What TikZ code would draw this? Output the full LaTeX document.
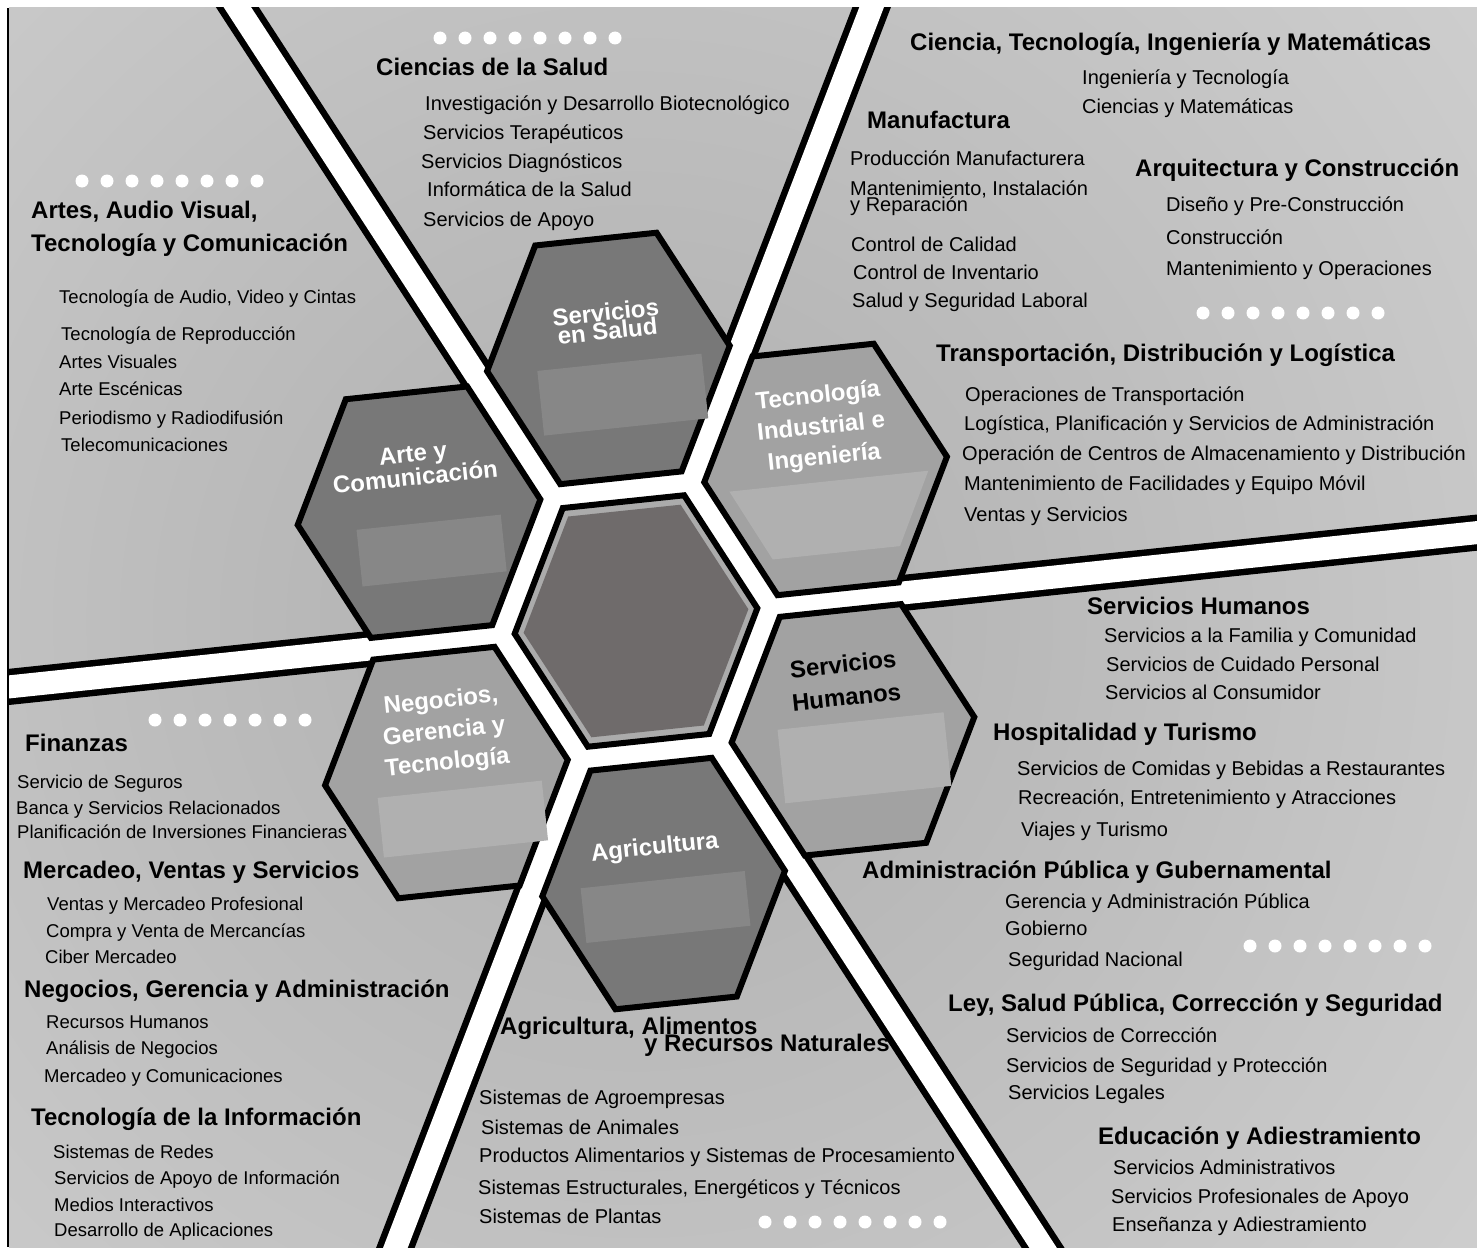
\documentclass[tikz,border=0pt]{standalone}
\usepackage{fontspec}
\setmainfont{Liberation Sans}
\definecolor{bgdark}{HTML}{AEAEAE}
\definecolor{bglight}{HTML}{D8D8D8}
\definecolor{hexdark}{HTML}{787878}
\definecolor{hexmid}{HTML}{A2A2A2}
\definecolor{boxdark}{HTML}{878787}
\definecolor{boxmid}{HTML}{B0B0B0}
\definecolor{hubring}{HTML}{ABABAB}
\definecolor{hubcore}{HTML}{6F6B6B}
% one cell of the honeycomb, centred on the current origin
\newcommand{\honeycell}[2]{(#1,0) -- (#1/2,#2) -- (-#1/2,#2) -- (-#1,0) -- (-#1/2,-#2) -- (#1/2,-#2) -- cycle}
\begin{document}
\begin{tikzpicture}[x=1pt,y=-1pt,
  heading/.style={anchor=west,inner sep=0,font=\fontsize{24}{26}\selectfont\bfseries,text height=17pt,text depth=5pt},
  entry/.style={anchor=west,inner sep=0,font=\fontsize{20}{22}\selectfont,text height=14.5pt,text depth=4pt},
  entrysm/.style={entry,font=\fontsize{18.5}{20}\selectfont},
  hexlbl/.style={align=center,rotate=6,inner sep=0,text=white,font=\fontsize{24}{#1}\selectfont\bfseries},
  hexline/.style={draw=black,line width=6,line join=miter}]
\useasboundingbox (0,0) rectangle (1477,1247);

% background and frame
\begin{scope}
  \clip (9,8) rectangle (1477,1247);
  \shade[inner color=bgdark,outer color=bglight] (636,621) circle (1400);
  \begin{scope}[shift={(636,621)},rotate=6]
    \foreach \ang in {0,63,117,180,243,297} {
      \draw[line width=36] (0,0) -- (\ang:1500);
      \draw[white,line width=23] (0,0) -- (\ang:1500);
    }
    \fill[white] \honeycell{150}{144};
  \end{scope}
\end{scope}
\draw[line width=2] (8,8) -- (8,1247);

% honeycomb
\begin{scope}[shift={(636,621)},rotate=6]
  \begin{scope}[shift={(0,-264)}]
    \filldraw[hexline,fill=hexdark] \honeycell{122}{120};
    \fill[boxdark] (-72,5) rectangle (93,70);
    \node[hexlbl=15] (salud) at (2,-37) {Servicios\\en Salud};
  \end{scope}
  \begin{scope}[shift={(204.4,-130.9)}]
    \filldraw[hexline,fill=hexmid] \honeycell{122}{120};
    \fill[boxmid] (-98,12) -- (102,12) -- (66,84) -- (-62,84) -- cycle;
    \node[hexlbl=31] (tecno) at (0,-42) {Tecnología\\Industrial e\\Ingeniería};
  \end{scope}
  \begin{scope}[shift={(204.4,130.9)}]
    \filldraw[hexline,fill=hexmid] \honeycell{122}{120};
    \fill[boxmid] (-75,-8) rectangle (92,66);
    \node[hexlbl=33,text=black] (humanos) at (-3,-50) {Servicios\\Humanos};
  \end{scope}
  \begin{scope}[shift={(0,264)}]
    \filldraw[hexline,fill=hexdark] \honeycell{122}{120};
    \fill[boxdark] (-83,-4) rectangle (82,51);
    \node[hexlbl=26] (agri) at (-5,-36) {Agricultura};
  \end{scope}
  \begin{scope}[shift={(-204.4,130.9)}]
    \filldraw[hexline,fill=hexmid] \honeycell{122}{120};
    \fill[boxmid] (-71,18) rectangle (94,78);
    \node[hexlbl=31] (negocios) at (2,-40) {Negocios,\\Gerencia y\\Tecnología};
  \end{scope}
  \begin{scope}[shift={(-204.4,-130.9)}]
    \filldraw[hexline,fill=hexdark] \honeycell{122}{120};
    \fill[boxdark] (-64,11) rectangle (81,68);
    \node[hexlbl=14] (arte) at (0,-47) {Arte y\\Comunicación};
  \end{scope}
  % hub
  \filldraw[hexline,fill=hubring] \honeycell{122}{120};
  \fill[hubcore] \honeycell{113}{111};
\end{scope}

% rows of dots
\foreach \dx/\dy/\dn in {440/38/7, 82/181/7, 1203/313/7, 155/720/6, 1250/946/7, 765/1222/7}
  \foreach \k in {0,...,\dn}
    \fill[white] (\dx+25*\k,\dy) circle (6.5);

% cluster headings
\node[heading] (h-salud) at (376,69) {Ciencias de la Salud};
\node[heading] (h-arte1) at (31,212) {Artes, Audio Visual,};
\node[heading] (h-arte2) at (31,245) {Tecnología y Comunicación};
\node[heading] (h-stem) at (910,45) {Ciencia, Tecnología, Ingeniería y Matemáticas};
\node[heading] (h-manuf) at (867,122) {Manufactura};
\node[heading] (h-arq) at (1135,170) {Arquitectura y Construcción};
\node[heading] (h-transp) at (936,355) {Transportación, Distribución y Logística};
\node[heading] (h-humanos) at (1087,608) {Servicios Humanos};
\node[heading] (h-hosp) at (993,734) {Hospitalidad y Turismo};
\node[heading] (h-admin) at (862,872) {Administración Pública y Gubernamental};
\node[heading] (h-ley) at (948,1005) {Ley, Salud Pública, Corrección y Seguridad};
\node[heading] (h-educ) at (1098,1138) {Educación y Adiestramiento};
\node[heading] (h-agri1) at (500,1028) {Agricultura, Alimentos};
\node[heading] (h-agri2) at (644,1045) {y Recursos Naturales};
\node[heading] (h-fin) at (25,745) {Finanzas};
\node[heading] (h-merc) at (23,872) {Mercadeo, Ventas y Servicios};
\node[heading] (h-neg) at (24,991) {Negocios, Gerencia y Administración};
\node[heading] (h-ti) at (31,1119) {Tecnología de la Información};

% pathways, upper sectors
\foreach \xx/\yy/\txt [count=\i] in {425/105/Investigación y Desarrollo Biotecnológico,
    423/134/Servicios Terapéuticos, 421/163/Servicios Diagnósticos,
    427/191/Informática de la Salud, 423/221/Servicios de Apoyo}
  \node[entry] (sal-\i) at (\xx,\yy) {\txt};
\foreach \xx/\yy/\txt [count=\i] in {59/298/{Tecnología de Audio, Video y Cintas},
    61/335/Tecnología de Reproducción, 59/363/Artes Visuales, 59/390/Arte Escénicas,
    59/419/Periodismo y Radiodifusión, 61/446/Telecomunicaciones}
  \node[entrysm] (art-\i) at (\xx,\yy) {\txt};
\foreach \xx/\yy/\txt [count=\i] in {1082/79/Ingeniería y Tecnología, 1082/108/Ciencias y Matemáticas,
    850/160/Producción Manufacturera, 850/190/{Mantenimiento, Instalación}, 850/206/y Reparación,
    851/246/Control de Calidad, 853/274/Control de Inventario, 852/302/Salud y Seguridad Laboral,
    1166/206/Diseño y Pre-Construcción, 1166/239/Construcción, 1166/270/Mantenimiento y Operaciones,
    965/396/Operaciones de Transportación, 964/425/{Logística, Planificación y Servicios de Administración},
    962/455/Operación de Centros de Almacenamiento y Distribución,
    964/485/Mantenimiento de Facilidades y Equipo Móvil, 964/516/Ventas y Servicios}
  \node[entry] (ind-\i) at (\xx,\yy) {\txt};

% pathways, lower sectors
\foreach \xx/\yy/\txt [count=\i] in {1104/637/Servicios a la Familia y Comunidad,
    1106/666/Servicios de Cuidado Personal, 1105/694/Servicios al Consumidor,
    1017/770/Servicios de Comidas y Bebidas a Restaurantes,
    1018/799/{Recreación, Entretenimiento y Atracciones}, 1021/831/Viajes y Turismo,
    1005/903/Gerencia y Administración Pública, 1005/930/Gobierno, 1008/961/Seguridad Nacional,
    1006/1037/Servicios de Corrección, 1006/1067/Servicios de Seguridad y Protección,
    1008/1094/Servicios Legales, 1113/1169/Servicios Administrativos,
    1111/1198/Servicios Profesionales de Apoyo, 1112/1226/Enseñanza y Adiestramiento}
  \node[entry] (hum-\i) at (\xx,\yy) {\txt};
\foreach \xx/\yy/\txt [count=\i] in {479/1099/Sistemas de Agroempresas, 481/1129/Sistemas de Animales,
    479/1157/Productos Alimentarios y Sistemas de Procesamiento,
    478/1189/{Sistemas Estructurales, Energéticos y Técnicos}, 479/1218/Sistemas de Plantas}
  \node[entry] (agr-\i) at (\xx,\yy) {\txt};
\foreach \xx/\yy/\txt [count=\i] in {17/783/Servicio de Seguros, 16/809/Banca y Servicios Relacionados,
    17/833/Planificación de Inversiones Financieras, 47/905/Ventas y Mercadeo Profesional,
    46/932/Compra y Venta de Mercancías, 45/958/Ciber Mercadeo, 46/1023/Recursos Humanos,
    46/1049/Análisis de Negocios, 44/1077/Mercadeo y Comunicaciones, 53/1153/Sistemas de Redes,
    54/1179/Servicios de Apoyo de Información, 54/1206/Medios Interactivos,
    54/1231/Desarrollo de Aplicaciones}
  \node[entrysm] (neg-\i) at (\xx,\yy) {\txt};
\end{tikzpicture}
\end{document}
